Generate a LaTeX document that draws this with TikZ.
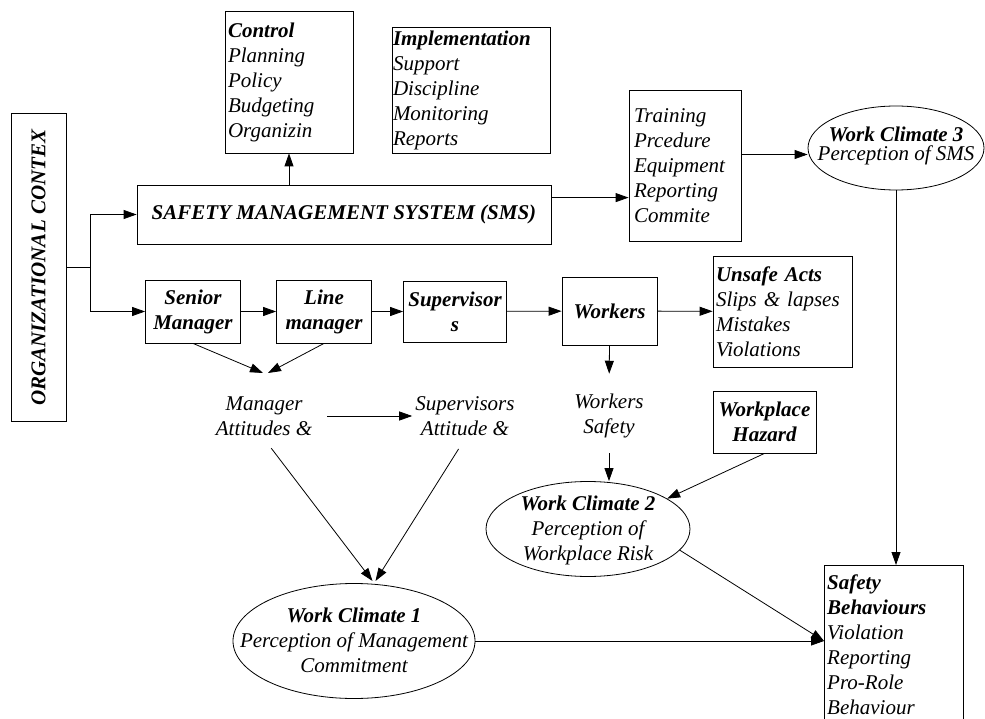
\documentclass[tikz,border=0pt]{standalone}
\usepackage{fontspec}
\setmainfont{Liberation Serif}
\usetikzlibrary{arrows.meta,shapes.geometric}
\begin{document}
\begin{tikzpicture}[x=1pt,y=-1pt,
  every node/.style={font=\fontsize{21}{25}\selectfont\itshape},
  line/.style={line width=0.8pt},
  arr/.style={line,-{Triangle[length=13pt,width=9pt]}},
  box/.style={draw,line width=0.8pt,inner sep=3pt},
  cbox/.style={box,align=center,font=\fontsize{21}{25}\selectfont\bfseries\itshape},
  lbox/.style={box,align=left},
  ellip/.style={draw,ellipse,line width=0.8pt,inner sep=0pt},
  lab/.style={align=center,inner sep=3pt}]
\useasboundingbox (0,0) rectangle (985,719);
\clip (0,0) rectangle (985,719);

% organisational context and SMS
\node[box,rotate=90,minimum width=308pt,minimum height=55pt,
      font=\fontsize{21}{25}\selectfont\bfseries\itshape] (org) at (38.5,267.7) {ORGANIZATIONAL CONTEX};
\node[cbox,minimum width=414pt,minimum height=59pt] (sms) at (344,214.5) {SAFETY MANAGEMENT SYSTEM (SMS)};

% SMS elements
\node[lbox,text width=122pt,minimum height=142pt] (ctrl) at (289,82)
  {\textbf{Control}\\Planning\\Policy\\Budgeting\\Organizin};
\node[lbox,inner xsep=1pt,text width=156pt,minimum height=126pt] (impl) at (471,90)
  {\textbf{Implementation}\\Support\\Discipline\\Monitoring\\Reports};
\node[lbox,inner xsep=5pt,text width=102pt,minimum height=151pt] (train) at (685,165.5)
  {Training\\Prcedure\\Equipment\\Reporting\\Commite};

% hierarchy row
\node[cbox,minimum width=95pt,minimum height=63pt] (senior) at (193,311.5) {Senior\\Manager};
\node[cbox,minimum width=95pt,minimum height=63pt] (line) at (324,311.5) {Line\\manager};
\node[cbox,minimum width=103pt,minimum height=61pt] (supv) at (455,311.5) {Supervisor\\s};
\node[cbox,minimum width=95pt,minimum height=68pt] (workers) at (609.5,311) {Workers};
\node[lbox,text width=133pt,minimum height=111pt] (unsafe) at (782.5,311.5)
  {\textbf{Unsafe Acts}\\Slips \& lapses\\Mistakes\\Violations};
\node[cbox,minimum width=103pt,minimum height=62pt] (hazard) at (764.5,422) {Workplace\\Hazard};

% attitudes
\node[lab] (mgr) at (264,416) {Manager\\Attitudes \&};
\node[lab] (supatt) at (465,416) {Supervisors\\Attitude \&};
\node[lab] (wsafe) at (609,416) {Workers\\Safety};

% work climates
\node[ellip,minimum width=176pt,minimum height=84pt] (wc3) at (896,148) {};
\node[lab,font=\fontsize{21}{19}\selectfont\itshape] (wc3t) at (896,146) {\textbf{Work Climate 3}\\Perception of SMS};
\node[ellip,minimum width=204pt,minimum height=95pt] (wc2) at (588,529) {};
\node[lab] (wc2t) at (588,530) {\textbf{Work Climate 2}\\Perception of\\Workplace Risk};
\node[ellip,minimum width=242pt,minimum height=115pt] (wc1) at (354,641) {};
\node[lab] (wc1t) at (354,640) {\textbf{Work Climate 1}\\Perception of Management\\Commitment};

% safety behaviours (box runs off the lower edge)
\node[anchor=north west,align=left,inner xsep=3pt,inner ysep=10pt,text width=133pt] (sb) at (824,565)
  {\textbf{Safety}\\\textbf{Behaviours}\\Violation\\Reporting\\Pro-Role\\Behaviour};
\draw[line] ([yshift=-30pt]sb.south west) -- (sb.north west) -- (sb.north east) -- ([yshift=-30pt]sb.south east);

% connectors
\coordinate (j) at (90,267.7);
\draw[line] (org.south) -- (j);
\draw[arr] (j) |- (sms.west);
\draw[arr] (j) |- (senior.west);

\draw[arr] (sms.north -| ctrl.south) -- (ctrl.south);
\coordinate (smsout) at ([yshift=-13pt]sms.north east);
\draw[arr] (smsout) -- (smsout -| train.west);
\coordinate (trout) at ([yshift=11pt]train.east);
\draw[arr] (trout) -- (trout -| wc3.west);
\draw[arr] (wc3.south) -- (wc3.south |- sb.north);

\draw[arr] (senior) -- (line);
\draw[arr] (line) -- (supv);
\draw[arr] (supv) -- (workers);
\draw[arr] (workers) -- (unsafe);

\coordinate (mgrin) at (265.5,373);
\draw[arr] (senior.south) -- ([xshift=-2.5pt]mgrin);
\draw[arr] (line.south) -- ([xshift=2.5pt]mgrin);
\draw[arr,shorten <=12pt] (mgr) -- (supatt);

\coordinate (wc1in) at (374,581);
\draw[arr,shorten <=12pt] (mgr.south) -- ([xshift=-1.5pt]wc1in);
\draw[arr,shorten <=12pt] (supatt.south) -- ([xshift=1.5pt]wc1in);

\draw[arr,shorten >=17pt] (workers.south) -- (wsafe.north);
\draw[arr,shorten <=12pt] (wsafe.south) -- (wsafe.south |- wc2.north);
\draw[arr] (hazard.south) -- (wc2.21);

\coordinate (sbin) at (sb.north west |- wc1.east);
\draw[arr] (wc1.east) -- (sbin);
\draw[arr] (wc2.-13) -- (sbin);
\end{tikzpicture}
\end{document}
